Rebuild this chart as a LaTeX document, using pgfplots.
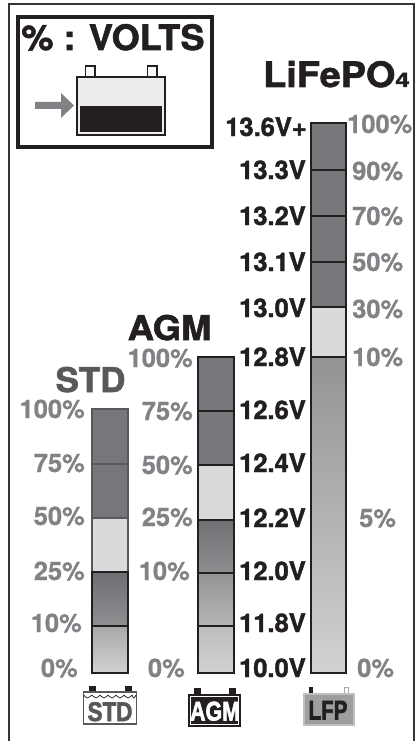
\documentclass[border=0pt]{standalone}
\usepackage{fontspec}
\usepackage{graphicx}
\usepackage{pgfplots}
\pgfplotsset{compat=1.18}
\setmainfont[BoldFeatures={FakeBold=1.6}]{TeX Gyre Heros}
\newfontfamily\pctfont[BoldFeatures={FakeBold=0.7}]{TeX Gyre Heros}
\newfontfamily\iconfont[BoldFeatures={FakeBold=2.5}]{Liberation Sans}
\definecolor{ink}{HTML}{231F20}
\definecolor{pct}{HTML}{808285}
\definecolor{dk}{HTML}{76777A}
\definecolor{lt}{HTML}{D9DADB}
\definecolor{stdl}{HTML}{58595B}
\definecolor{6D6E71}{HTML}{6D6E71}
\definecolor{8F9092}{HTML}{8F9092}
\definecolor{A8A9AB}{HTML}{A8A9AB}
\definecolor{D0D1D2}{HTML}{D0D1D2}
\definecolor{6F7073}{HTML}{6F7073}
\definecolor{8E8F91}{HTML}{8E8F91}
\definecolor{939496}{HTML}{939496}
\definecolor{B5B6B8}{HTML}{B5B6B8}
\definecolor{BCBDBF}{HTML}{BCBDBF}
\definecolor{D1D2D3}{HTML}{D1D2D3}
\definecolor{959292}{HTML}{959292}
% bar segment: x0 x1 ytop ybot topcolour bottomcolour drawcolour
\newcommand{\seg}[7]{\addplot[draw=#7,line width=2pt,top color=#5,bottom color=#6] coordinates {(#1,#3) (#2,#3) (#2,#4) (#1,#4)} --cycle;}
\newcommand{\labR}[3]{\node[anchor=base east,inner sep=0pt,text=pct] at (axis cs:#1,#2) {\fontsize{25.5}{25.5}\pctfont\bfseries #3};}
\newcommand{\labL}[3]{\node[anchor=base west,inner sep=0pt,text=pct] at (axis cs:#1,#2) {\fontsize{25.5}{25.5}\pctfont\bfseries #3};}
\newcommand{\volt}[3]{\node[anchor=base east,inner sep=0pt,text=ink] at (axis cs:#1,#2) {\fontsize{25.5}{25.5}\selectfont\bfseries #3};}
\begin{document}
\begin{tikzpicture}
\useasboundingbox (0,0) rectangle (417pt,741pt);
\begin{axis}[at={(0,0)},anchor=south west,scale only axis,width=417pt,height=741pt,
  xmin=0,xmax=417,ymin=0,ymax=741,y dir=reverse,axis lines=none,clip=false]
% outer frame (open at the bottom)
\addplot[draw=ink!90,line width=2pt] coordinates {(8.5,741) (8.5,4.5) (413.5,4.5) (413.5,741)};
% legend box
\addplot[draw=ink,line width=4pt] coordinates {(17.5,17) (212,17) (212,147) (17.5,147)} --cycle;
\node[anchor=base,inner sep=0pt,text=ink] at (axis cs:113,50) {\scalebox{1.03}[1]{\fontsize{35}{35}\selectfont\bfseries\% : VOLTS}};
% battery in box
\addplot[draw=ink,line width=1.8pt,fill=white!85!lt] coordinates {(85.5,66) (95,66) (95,77) (85.5,77)} --cycle;
\addplot[draw=ink,line width=1.8pt,fill=white!85!lt] coordinates {(147.5,66) (157,66) (157,77) (147.5,77)} --cycle;
\addplot[draw=ink,line width=1.8pt,fill=black!7] coordinates {(77,77) (165,77) (165,135) (77,135)} --cycle;
\addplot[draw=none,fill=ink] coordinates {(80,106) (162,106) (162,132) (80,132)} --cycle;
\addplot[draw=none,fill=pct] coordinates {(35,102) (61,102) (61,93) (74,105.5) (61,118) (61,109) (35,109)} --cycle;
% titles
\node[anchor=base west,inner sep=0pt,text=ink] at (axis cs:263,87) {\scalebox{1.08}[1]{\fontsize{35}{35}\selectfont\bfseries LiFePO}\scalebox{1.3}[1]{\fontsize{20}{20}\selectfont\bfseries 4}};
\node[anchor=base,inner sep=0pt,text=ink] at (axis cs:169.5,340) {\scalebox{1.07}[1]{\fontsize{34}{34}\selectfont\bfseries AGM}};
\node[anchor=base,inner sep=0pt,text=stdl] at (axis cs:90.5,392) {\scalebox{1.03}[1]{\fontsize{34}{34}\selectfont\bfseries STD}};
% STD bar
\seg{92}{128}{409}{463.5}{dk}{dk}{stdl}
\seg{92}{128}{463.5}{518}{dk}{dk}{stdl}
\seg{92}{128}{518}{572}{lt}{lt}{stdl}
\seg{92}{128}{572}{626}{6D6E71}{8F9092}{ink}
\seg{92}{128}{626}{673}{A8A9AB}{D0D1D2}{ink}
% AGM bar
\seg{198}{234}{357}{411}{dk}{dk}{ink}
\seg{198}{234}{411}{465}{dk}{dk}{ink}
\seg{198}{234}{465}{520}{lt}{lt}{ink}
\seg{198}{234}{520}{573}{6F7073}{8E8F91}{ink}
\seg{198}{234}{573}{626}{939496}{B5B6B8}{ink}
\seg{198}{234}{626}{673}{BCBDBF}{D1D2D3}{ink}
% LFP bar
\seg{311}{346}{123.5}{169.5}{dk}{dk}{ink}
\seg{311}{346}{169.5}{215.5}{dk}{dk}{ink}
\seg{311}{346}{215.5}{261.5}{dk}{dk}{ink}
\seg{311}{346}{261.5}{307}{dk}{dk}{ink}
\seg{311}{346}{307}{357}{lt}{lt}{ink}
\seg{311}{346}{357}{673}{959292}{D1D2D3}{ink}
% STD percentages
\labR{85}{418}{100\%}
\labR{85}{472}{75\%}
\labR{85}{525}{50\%}
\labR{85}{580}{25\%}
\labR{82}{632}{10\%}
\labR{78}{677}{0\%}
% AGM percentages
\labR{193}{367}{100\%}
\labR{193}{420}{75\%}
\labR{193}{474}{50\%}
\labR{193}{526}{25\%}
\labR{190}{580}{10\%}
\labR{185}{677}{0\%}
% AGM volts
\volt{306}{366}{12.8V}
\volt{306}{419}{12.6V}
\volt{306}{472}{12.4V}
\volt{306}{527}{12.2V}
\volt{306}{580}{12.0V}
\volt{306}{632}{11.8V}
\volt{306}{677}{10.0V}
% LFP volts
\volt{307}{136}{13.6V+}
\volt{306}{179}{13.3V}
\volt{306}{225}{13.2V}
\volt{306}{271}{13.1V}
\volt{306}{317}{13.0V}
% LFP percentages
\labL{347}{133}{100\%}
\labL{352}{180}{90\%}
\labL{352}{225}{70\%}
\labL{352}{271}{50\%}
\labL{352}{318}{30\%}
\labL{352}{366}{10\%}
\labL{359}{527}{5\%}
\labL{357}{677}{0\%}
% STD icon
\addplot[draw=none,fill=ink] coordinates {(89,686) (96,686) (96,692) (89,692)} --cycle;
\addplot[draw=none,fill=ink] coordinates {(124.5,686) (132,686) (132,692) (124.5,692)} --cycle;
\addplot[draw=stdl,line width=1.2pt,fill=white] coordinates {(83.5,692) (136.5,692) (136.5,724) (83.5,724)} --cycle;
\addplot[draw=ink,line width=0.7pt,smooth,tension=0.6] coordinates {(84,695) (87,698) (92,695)};
\addplot[draw=ink,line width=0.7pt,smooth,tension=0.6] coordinates {(92,695) (96,698) (100,695)};
\addplot[draw=ink,line width=0.7pt,smooth,tension=0.6] coordinates {(100,695) (104,698) (108,695)};
\addplot[draw=ink,line width=0.7pt,smooth,tension=0.6] coordinates {(108,695) (112,698) (116,695)};
\addplot[draw=ink,line width=0.7pt,smooth,tension=0.6] coordinates {(116,695) (120,698) (124,695)};
\addplot[draw=ink,line width=0.7pt,smooth,tension=0.6] coordinates {(124,695) (128,698) (132,695)};
\addplot[draw=ink,line width=0.7pt,smooth,tension=0.6] coordinates {(132,695) (134,698) (136,695)};
\node[anchor=base,inner sep=0pt,text=stdl] at (axis cs:110,721) {\scalebox{0.83}[1]{\fontsize{27}{27}\iconfont\bfseries STD}};
% AGM icon
\addplot[draw=none,fill=ink] coordinates {(194,688) (201,688) (201,694) (194,694)} --cycle;
\addplot[draw=none,fill=ink] coordinates {(229,688) (236,688) (236,694) (229,694)} --cycle;
\addplot[draw=none,fill=ink] coordinates {(188,694) (241,694) (241,727) (188,727)} --cycle;
\addplot[draw=white,line width=0.8pt] coordinates {(190.5,696) (238.5,696) (238.5,724.5) (190.5,724.5)} --cycle;
\node[anchor=base,inner sep=0pt,text=white] at (axis cs:215,720.5) {\scalebox{0.79}[1]{\fontsize{27}{27}\iconfont\bfseries AGM}};
% LFP icon
\addplot[draw=none,fill=ink] coordinates {(309,687) (313,687) (313,693) (309,693)} --cycle;
\addplot[draw=black!35,line width=1pt,fill=white] coordinates {(344.5,687.5) (348.5,687.5) (348.5,693) (344.5,693)} --cycle;
\addplot[draw=black!25,line width=2pt,fill=black!38] coordinates {(304,694) (353.5,694) (353.5,725) (304,725)} --cycle;
\node[anchor=base,inner sep=0pt,text=ink] at (axis cs:328,719.5) {\scalebox{0.76}[1]{\fontsize{27}{27}\iconfont\bfseries LFP}};
\end{axis}
\end{tikzpicture}
\end{document}
